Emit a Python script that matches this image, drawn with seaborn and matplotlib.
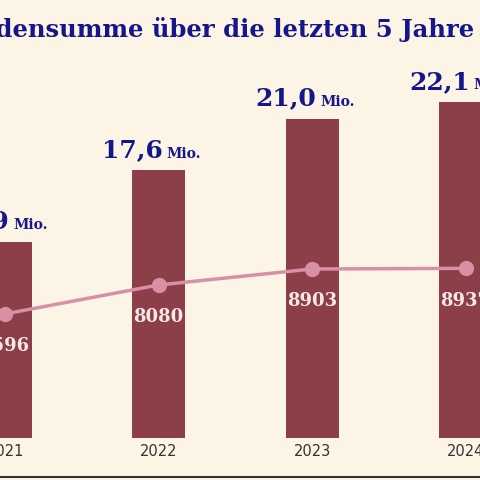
import matplotlib
matplotlib.use('Agg')
import matplotlib.pyplot as plt
import matplotlib.transforms as mtransforms
import seaborn as sns

years = [2021, 2022, 2023, 2024]
sums_mio = [12.9, 17.6, 21.0, 22.1]
sum_labels = ['12,9', '17,6', '21,0', '22,1']
counts = [6596, 8080, 8903, 8937]

bg = '#fcf5e6'
bar_col = '#8c3f48'
line_col = '#d98fa4'
navy = '#15168a'

sns.set_theme(style='white')
plt.rcParams['font.family'] = ['DejaVu Sans']

fig = plt.figure(figsize=(4.8, 4.8), dpi=100, facecolor=bg)
ax = fig.add_axes([0, 0, 1, 1])
ax.set_facecolor(bg)
sns.barplot(x=years, y=sums_mio, native_scale=True, color=bar_col, width=0.345,
            saturation=1, linewidth=0, ax=ax)
ax.set_xlim(2020.967, 2020.967 + 480 / 153.5)
ax.set_ylim(-42 / 15.2, 438 / 15.2)
ax.axis('off')

for x, v, lab in zip(years, sums_mio, sum_labels):
    t1 = mtransforms.offset_copy(ax.transData, fig=fig, x=3, y=6, units='points')
    ax.text(x, v, lab, transform=t1, ha='right', va='bottom', color=navy,
            fontsize=18, fontweight='bold', family='DejaVu Serif')
    t2 = mtransforms.offset_copy(ax.transData, fig=fig, x=6, y=7, units='points')
    ax.text(x, v, 'Mio.', transform=t2, ha='left', va='bottom', color=navy,
            fontsize=10, fontweight='bold', family='DejaVu Serif')
    ax.text(x, -0.9, str(x), ha='center', va='center', color='#333333', fontsize=10.5)

ax2 = ax.twinx()
ax2.set_ylim(-1943, 22730)
ax2.axis('off')
sns.lineplot(x=years, y=counts, color=line_col, linewidth=2.5, marker='o',
             markersize=11, markeredgewidth=0, ax=ax2)
ax2.set_xlim(ax.get_xlim())
for x, c in zip(years, counts):
    ax2.text(x, c - 1200, str(c), ha='center', va='top', color='#f7e8e8',
             fontsize=13, fontweight='bold', family='DejaVu Serif')

fig.text(-0.15, 0.938, 'Spendensumme über die letzten 5 Jahre', ha='left', va='center',
         color=navy, fontsize=17.5, fontweight='bold', family='DejaVu Serif')
fig.add_artist(plt.Line2D([0, 1], [0.006, 0.006], color='#333333', linewidth=1.5))

fig.savefig('out.png', dpi=100, facecolor=bg)
